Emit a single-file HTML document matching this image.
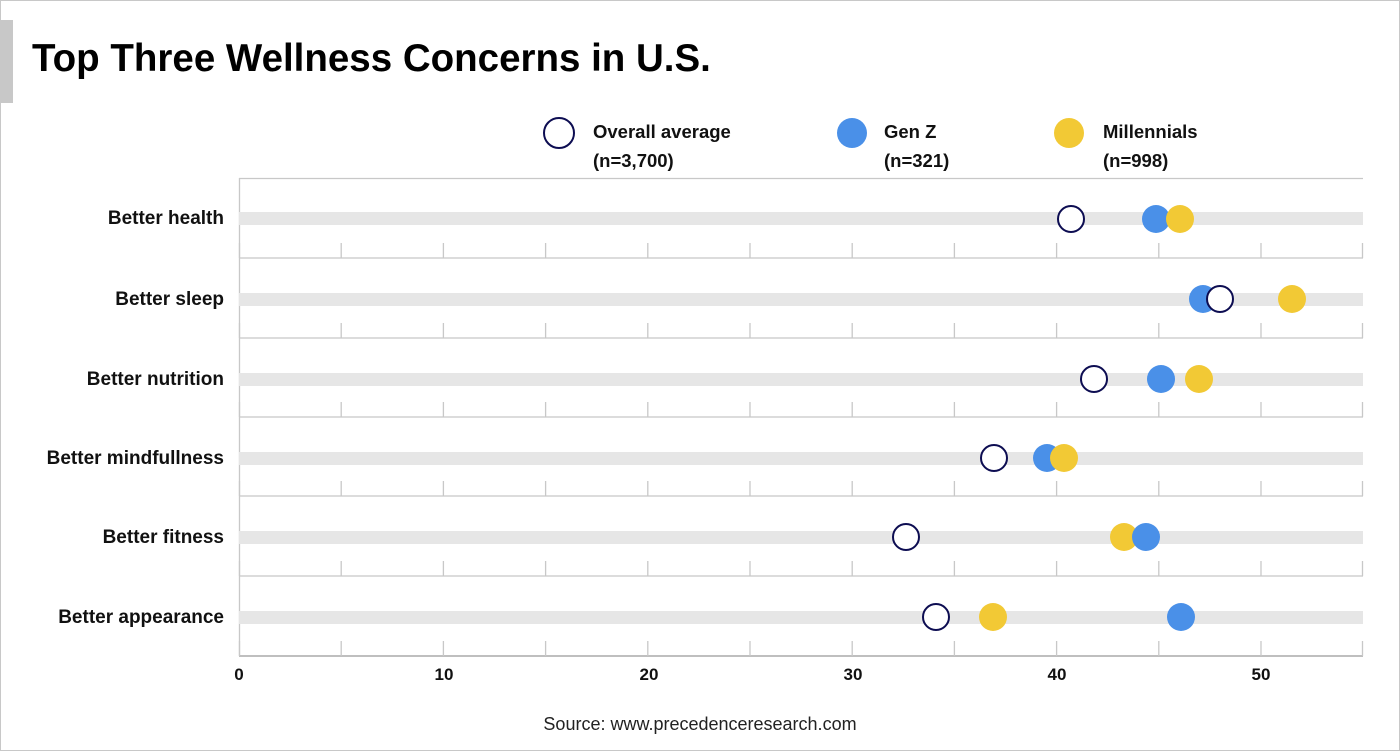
<!DOCTYPE html>
<html><head><meta charset="utf-8"><style>
body{margin:0;background:#fff}
svg{display:block;font-family:"Liberation Sans",Arial,sans-serif}
</style></head><body>
<svg width="1400" height="751" viewBox="0 0 1400 751" xmlns="http://www.w3.org/2000/svg">
<defs>
<path id="tk" d="M239.5 0V15M341.2 0V15M443.4 0V15M545.6 0V15M647.8 0V15M750 0V15M852.2 0V15M954.4 0V15M1056.6 0V15M1158.8 0V15M1261 0V15M1362.5 0V15" stroke="#c8c8c8" stroke-width="1.3" fill="none"/>
</defs>
<rect x="0.5" y="0.5" width="1399" height="750" fill="#fff" stroke="#c8c8c8"/>
<rect x="0" y="20" width="13" height="83" fill="#c8c8c8"/>
<text x="32" y="71" font-size="38.5" font-weight="bold" fill="#000">Top Three Wellness Concerns in U.S.</text>
<g font-size="18.5" font-weight="bold" fill="#111">
<circle cx="559" cy="133" r="15" fill="#fff" stroke="#0d0d52" stroke-width="2"/>
<text x="593" y="138">Overall average</text><text x="593" y="167">(n=3,700)</text>
<circle cx="852" cy="133" r="15" fill="#4a90e8"/>
<text x="884" y="138">Gen Z</text><text x="884" y="167">(n=321)</text>
<circle cx="1069" cy="133" r="15" fill="#f2c935"/>
<text x="1103" y="138">Millennials</text><text x="1103" y="167">(n=998)</text>
</g>
<g stroke="#c8c8c8" stroke-width="1.3" fill="none">
<line x1="239" y1="178.5" x2="1363" y2="178.5"/>
<line x1="239.5" y1="178" x2="239.5" y2="656"/>
<line x1="239" y1="258" x2="1363" y2="258"/>
<line x1="239" y1="338" x2="1363" y2="338"/>
<line x1="239" y1="417" x2="1363" y2="417"/>
<line x1="239" y1="496" x2="1363" y2="496"/>
<line x1="239" y1="576" x2="1363" y2="576"/>
<line x1="239" y1="656" x2="1363" y2="656" stroke="#999"/>
</g>
<use href="#tk" y="243"/><use href="#tk" y="323"/><use href="#tk" y="402"/>
<use href="#tk" y="481"/><use href="#tk" y="561"/><use href="#tk" y="641"/>
<g fill="#e6e6e6">
<rect x="239" y="212" width="1124" height="13"/>
<rect x="239" y="293" width="1124" height="13"/>
<rect x="239" y="373" width="1124" height="13"/>
<rect x="239" y="452" width="1124" height="13"/>
<rect x="239" y="531" width="1124" height="13"/>
<rect x="239" y="611" width="1124" height="13"/>
</g>
<g font-size="19" font-weight="bold" fill="#111" text-anchor="end">
<text x="224" y="224">Better health</text>
<text x="224" y="305">Better sleep</text>
<text x="224" y="385">Better nutrition</text>
<text x="224" y="464">Better mindfullness</text>
<text x="224" y="543">Better fitness</text>
<text x="224" y="623">Better appearance</text>
</g>
<g stroke="none">
<circle cx="1156" cy="219" r="14" fill="#4a90e8"/><circle cx="1180" cy="219" r="14" fill="#f2c935"/>
<circle cx="1203" cy="299" r="14" fill="#4a90e8"/><circle cx="1292" cy="299" r="14" fill="#f2c935"/>
<circle cx="1161" cy="379" r="14" fill="#4a90e8"/><circle cx="1199" cy="379" r="14" fill="#f2c935"/>
<circle cx="1047" cy="458" r="14" fill="#4a90e8"/><circle cx="1064" cy="458" r="14" fill="#f2c935"/>
<circle cx="1124" cy="537" r="14" fill="#f2c935"/><circle cx="1146" cy="537" r="14" fill="#4a90e8"/>
<circle cx="993" cy="617" r="14" fill="#f2c935"/><circle cx="1181" cy="617" r="14" fill="#4a90e8"/>
</g>
<g fill="#fff" stroke="#0d0d52" stroke-width="2">
<circle cx="1071" cy="219" r="13"/>
<circle cx="1220" cy="299" r="13"/>
<circle cx="1094" cy="379" r="13"/>
<circle cx="994" cy="458" r="13"/>
<circle cx="906" cy="537" r="13"/>
<circle cx="936" cy="617" r="13"/>
</g>
<g font-size="17" font-weight="bold" fill="#111" text-anchor="middle">
<text x="239" y="680">0</text><text x="444" y="680">10</text><text x="649" y="680">20</text>
<text x="853" y="680">30</text><text x="1057" y="680">40</text><text x="1261" y="680">50</text>
</g>
<text x="700" y="730" font-size="18" fill="#222" text-anchor="middle">Source: www.precedenceresearch.com</text>
</svg>
</body></html>
